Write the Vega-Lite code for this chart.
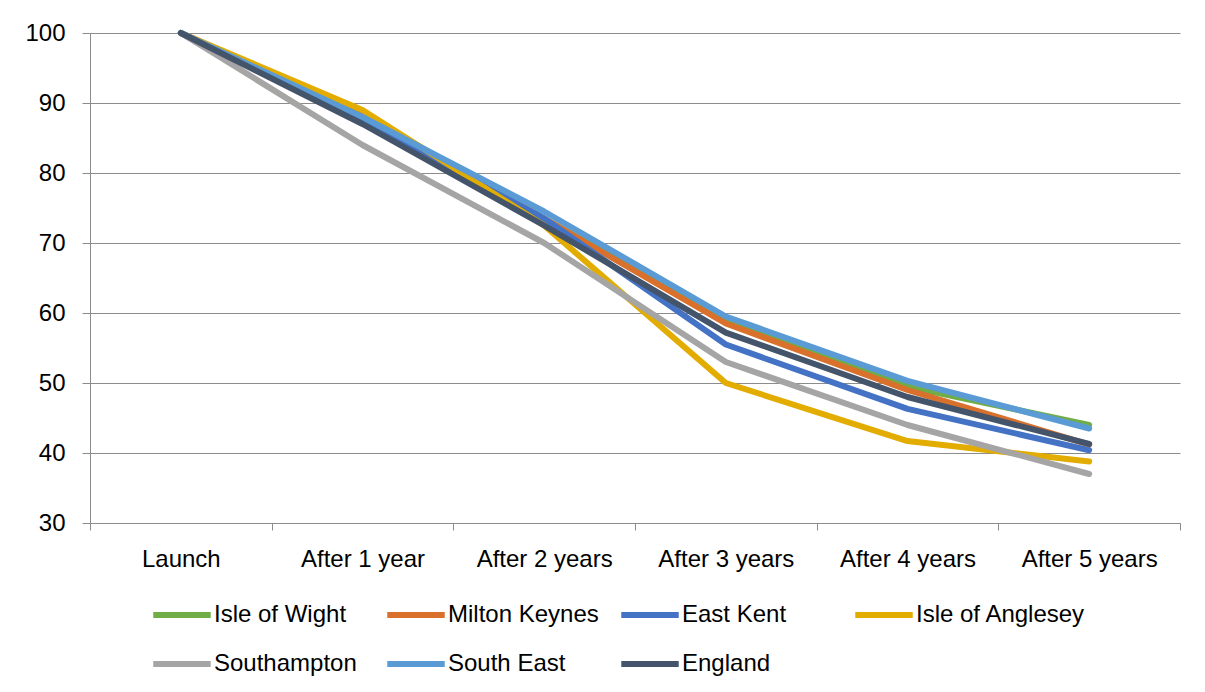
{
  "$schema": "https://vega.github.io/schema/vega-lite/v6.json",
  "autosize": "none",
  "width": 1090,
  "height": 490,
  "padding": {"left": 90, "top": 33, "right": 25, "bottom": 169},
  "background": "white",
  "config": {
    "font": "Liberation Sans",
    "view": {"stroke": null}
  },
  "data": {
    "values": [
      {"period": "Launch", "series": "Isle of Wight", "value": 100},
      {"period": "After 1 year", "series": "Isle of Wight", "value": 88},
      {"period": "After 2 years", "series": "Isle of Wight", "value": 73.5},
      {"period": "After 3 years", "series": "Isle of Wight", "value": 59},
      {"period": "After 4 years", "series": "Isle of Wight", "value": 49.5},
      {"period": "After 5 years", "series": "Isle of Wight", "value": 44},
      {"period": "Launch", "series": "Milton Keynes", "value": 100},
      {"period": "After 1 year", "series": "Milton Keynes", "value": 88.5},
      {"period": "After 2 years", "series": "Milton Keynes", "value": 73.5},
      {"period": "After 3 years", "series": "Milton Keynes", "value": 58.5},
      {"period": "After 4 years", "series": "Milton Keynes", "value": 49},
      {"period": "After 5 years", "series": "Milton Keynes", "value": 41.2},
      {"period": "Launch", "series": "East Kent", "value": 100},
      {"period": "After 1 year", "series": "East Kent", "value": 87.5},
      {"period": "After 2 years", "series": "East Kent", "value": 73.5},
      {"period": "After 3 years", "series": "East Kent", "value": 55.5},
      {"period": "After 4 years", "series": "East Kent", "value": 46.3},
      {"period": "After 5 years", "series": "East Kent", "value": 40.4},
      {"period": "Launch", "series": "Isle of Anglesey", "value": 100},
      {"period": "After 1 year", "series": "Isle of Anglesey", "value": 89},
      {"period": "After 2 years", "series": "Isle of Anglesey", "value": 72.5},
      {"period": "After 3 years", "series": "Isle of Anglesey", "value": 50},
      {"period": "After 4 years", "series": "Isle of Anglesey", "value": 41.7},
      {"period": "After 5 years", "series": "Isle of Anglesey", "value": 38.8},
      {"period": "Launch", "series": "Southampton", "value": 100},
      {"period": "After 1 year", "series": "Southampton", "value": 84},
      {"period": "After 2 years", "series": "Southampton", "value": 70},
      {"period": "After 3 years", "series": "Southampton", "value": 53},
      {"period": "After 4 years", "series": "Southampton", "value": 44},
      {"period": "After 5 years", "series": "Southampton", "value": 37},
      {"period": "Launch", "series": "South East", "value": 100},
      {"period": "After 1 year", "series": "South East", "value": 88},
      {"period": "After 2 years", "series": "South East", "value": 74.5},
      {"period": "After 3 years", "series": "South East", "value": 59.5},
      {"period": "After 4 years", "series": "South East", "value": 50.3},
      {"period": "After 5 years", "series": "South East", "value": 43.5},
      {"period": "Launch", "series": "England", "value": 100},
      {"period": "After 1 year", "series": "England", "value": 87},
      {"period": "After 2 years", "series": "England", "value": 72.5},
      {"period": "After 3 years", "series": "England", "value": 57.2},
      {"period": "After 4 years", "series": "England", "value": 48},
      {"period": "After 5 years", "series": "England", "value": 41.3}
    ]
  },
  "mark": {"type": "line", "strokeWidth": 6, "strokeCap": "round", "strokeJoin": "round"},
  "encoding": {
    "x": {
      "field": "period",
      "type": "nominal",
      "sort": ["Launch", "After 1 year", "After 2 years", "After 3 years", "After 4 years", "After 5 years"],
      "bandPosition": 0.5,
      "scale": {"type": "band", "paddingInner": 0, "paddingOuter": 0},
      "axis": {
        "title": null,
        "labelAngle": 0,
        "labelFontSize": 24,
        "labelColor": "#000000",
        "labelPadding": 17,
        "tickBand": "extent",
        "tickSize": 7,
        "tickColor": "#8C8C8C",
        "domainColor": "#8C8C8C",
        "grid": false
      }
    },
    "y": {
      "field": "value",
      "type": "quantitative",
      "scale": {"domain": [30, 100], "nice": false, "zero": false},
      "axis": {
        "title": null,
        "values": [30, 40, 50, 60, 70, 80, 90, 100],
        "labelFontSize": 24,
        "labelColor": "#000000",
        "labelPadding": 17,
        "tickSize": 8,
        "tickColor": "#8C8C8C",
        "domainColor": "#8C8C8C",
        "grid": true,
        "gridColor": "#8C8C8C"
      }
    },
    "color": {
      "field": "series",
      "type": "nominal",
      "sort": ["Isle of Wight", "Milton Keynes", "East Kent", "Isle of Anglesey", "Southampton", "South East", "England"],
      "scale": {
        "domain": ["Isle of Wight", "Milton Keynes", "East Kent", "Isle of Anglesey", "Southampton", "South East", "England"],
        "range": ["#70AD47", "#D9702B", "#4472C4", "#E3AC00", "#A5A5A5", "#5B9BD5", "#44546A"]
      },
      "legend": {
        "title": null,
        "orient": "none",
        "legendX": 60,
        "legendY": 550,
        "direction": "horizontal",
        "columns": 4,
        "gridAlign": "all",
        "symbolType": "stroke",
        "symbolStrokeWidth": 6,
        "symbolSize": 3300,
        "labelFontSize": 24,
        "labelLimit": 300,
        "labelColor": "#000000",
        "labelOffset": 0,
        "columnPadding": -9,
        "rowPadding": 5
      }
    }
  }
}
